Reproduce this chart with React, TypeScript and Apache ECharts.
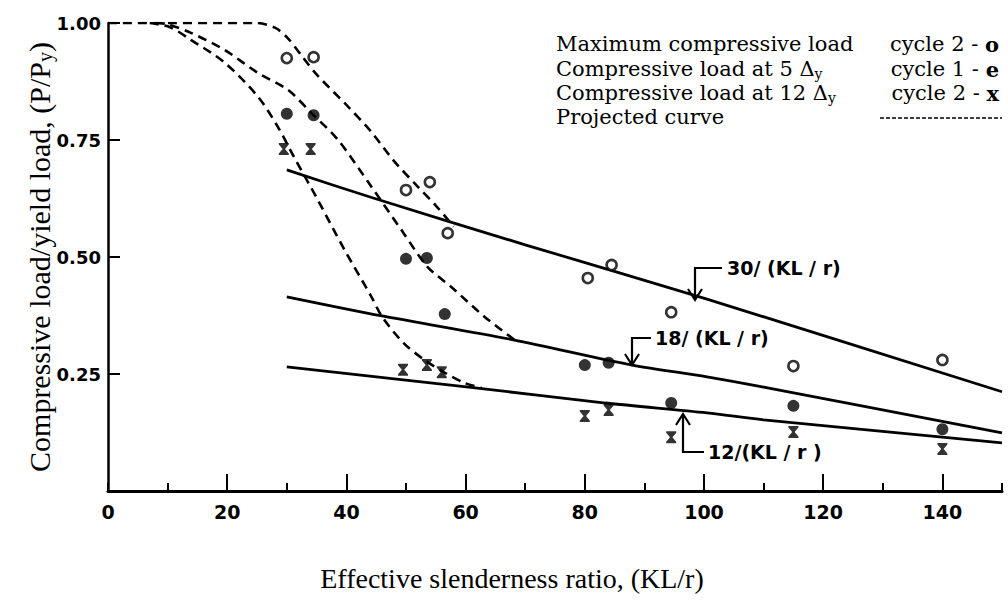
import React, { useEffect, useRef } from 'react';
import * as echarts from 'echarts';

// ---- tick labels ----
const xTickLabels = [0, 20, 40, 60, 80, 100, 120, 140];
const xMajorTicks = [20, 40, 60, 80, 100, 120, 140];
const yTickLabels = [0.25, 0.5, 0.75, 1.0];

// ---- measured points ----
// Maximum compressive load, cycle 2 (open circles)
const maxLoadX = [30, 34.5, 50, 54, 57, 80.5, 84.5, 94.5, 115, 140];
const maxLoadY = [0.925, 0.927, 0.643, 0.66, 0.551, 0.455, 0.483, 0.382, 0.267, 0.28];
// Compressive load at 5 Δy, cycle 1 (filled circles)
const load5X = [30, 34.5, 50, 53.5, 56.5, 80, 84, 94.5, 115, 140];
const load5Y = [0.806, 0.803, 0.496, 0.498, 0.378, 0.269, 0.274, 0.188, 0.182, 0.132];
// Compressive load at 12 Δy, cycle 2 (x marks)
const load12X = [29.5, 34, 49.5, 53.5, 56, 80, 84, 94.5, 115, 140];
const load12Y = [0.731, 0.731, 0.259, 0.269, 0.254, 0.16, 0.173, 0.115, 0.126, 0.09];

// ---- design lines (solid) ----
const line30 = [[30, 0.686], [44.5, 0.626], [70, 0.526], [100.5, 0.41], [150, 0.212]];
const line18 = [[30, 0.415], [46, 0.374], [68, 0.323], [88, 0.269], [100.5, 0.244], [110, 0.222], [150, 0.124]];
const line12 = [[30, 0.265], [60.5, 0.222], [83.5, 0.188], [100.5, 0.167], [110, 0.152], [150, 0.103]];

// ---- projected curves (dashed) ----
const projMax = [[0, 1], [25, 1], [28, 0.99], [30, 0.97], [32.5, 0.93], [35, 0.89], [40, 0.825], [44, 0.77], [48, 0.705], [52, 0.65], [55, 0.61], [58, 0.565]];
const proj5 = [[8, 1], [9.8, 0.998], [13.9, 0.979], [19.6, 0.942], [25.2, 0.893], [30.2, 0.857], [34.1, 0.808], [38.6, 0.75], [44.2, 0.65], [49.6, 0.551], [53.6, 0.479], [57.6, 0.436], [63.2, 0.372], [68.2, 0.323]];
const proj12 = [[7, 1], [10.4, 0.991], [13.9, 0.964], [19.6, 0.915], [25.2, 0.842], [28.5, 0.778], [31.2, 0.714], [35.2, 0.622], [39.7, 0.515], [44.2, 0.415], [46, 0.372], [49.6, 0.316], [53.1, 0.28], [56.6, 0.252], [59.8, 0.231], [62.7, 0.22]];

const zip = (xs: number[], ys: number[]) => xs.map((x, i) => [x, ys[i]]);

const SERIF = "'Liberation Serif', 'Times New Roman', serif";
const LEG_SERIF = "'DejaVu Serif', 'Liberation Serif', serif";
const SANS_B = "'DejaVu Sans', sans-serif";

const hourglass = 'path://M0,0 L10,0 L10,1.5 L6.2,6 L10,10.5 L10,12 L0,12 L0,10.5 L3.8,6 L0,1.5 Z';

const LEG_FS = 21;

function legendRow(y: number, left: string, right: string) {
  const items: any[] = [
    {
      type: 'text', x: 556, y,
      style: {
        text: left,
        rich: {
          a: { fontFamily: LEG_SERIF, fontSize: LEG_FS, fill: '#000' },
          s: { fontFamily: LEG_SERIF, fontSize: 14, fill: '#000', verticalAlign: 'bottom', padding: [9, 0, 0, 0] },
        },
        font: `${LEG_FS}px ${LEG_SERIF}`, fill: '#000',
        align: 'left', verticalAlign: 'middle', textAlign: 'left', textVerticalAlign: 'middle',
      },
    },
  ];
  if (right) {
    items.push({
      type: 'text', x: 999, y,
      style: {
        text: right,
        rich: {
          a: { fontFamily: LEG_SERIF, fontSize: LEG_FS, fill: '#000' },
          b: { fontFamily: LEG_SERIF, fontSize: LEG_FS, fontWeight: 'bold', fill: '#000' },
        },
        font: `${LEG_FS}px ${LEG_SERIF}`, fill: '#000',
        align: 'right', verticalAlign: 'middle', textAlign: 'right', textVerticalAlign: 'middle',
      },
    });
  }
  return items;
}

function annText(x: number, y: number, text: string) {
  return {
    type: 'text', x, y,
    style: {
      text, font: `bold 19px ${SANS_B}`, fill: '#000',
      align: 'left', verticalAlign: 'middle', textAlign: 'left', textVerticalAlign: 'middle',
    },
  };
}

const stroke = { stroke: '#000', lineWidth: 2.2, fill: 'none' };

export default function App() {
  const ref = useRef<HTMLDivElement>(null);
  useEffect(() => {
    document.body.style.margin = '0';
    const chart = echarts.init(ref.current!, null, { renderer: 'svg' });
    const lineSeries = (data: number[][], dashed: boolean) => ({
      type: 'line', data, showSymbol: false, symbol: 'none', smooth: 0.3,
      lineStyle: { color: '#000', width: dashed ? 2.6 : 2.8, type: dashed ? [9, 6] : 'solid' },
      z: 2, silent: true,
    });
    chart.setOption({
      animation: false,
      backgroundColor: '#fff',
      grid: { left: 108, right: 6, top: 23, bottom: 112 },
      xAxis: [
        {
          type: 'value', min: 0, max: 150, interval: 10, position: 'bottom',
          axisLine: { show: true, lineStyle: { color: '#000', width: 3 } },
          axisTick: { show: true, inside: true, length: 8, lineStyle: { color: '#000', width: 2 } },
          axisLabel: { show: false },
          splitLine: { show: false },
        },
        {
          type: 'value', min: 0, max: 150, interval: 10, position: 'bottom',
          axisLine: { show: false },
          axisTick: { show: true, inside: true, length: 17, customValues: xMajorTicks, lineStyle: { color: '#000', width: 2 } },
          axisLabel: {
            show: true, customValues: xTickLabels, margin: 11,
            fontFamily: SANS_B, fontWeight: 'bold', fontSize: 19, color: '#000',
          },
          splitLine: { show: false },
        },
      ],
      yAxis: {
        type: 'value', min: 0, max: 1, interval: 0.25,
        name: '{a|Compressive load/yield load, (P/P}{s|y}{a|)}',
        nameLocation: 'middle', nameGap: 53, nameRotate: 90, nameMoveOverlap: false,
        nameTextStyle: {
          rich: {
            a: { fontFamily: SERIF, fontSize: 30, color: '#000' },
            s: { fontFamily: SERIF, fontSize: 20, color: '#000', verticalAlign: 'bottom', padding: [11, 0, 0, 0] },
          },
        },
        axisLine: { show: true, lineStyle: { color: '#000', width: 2.5 } },
        axisTick: { show: true, inside: true, length: 12, lineStyle: { color: '#000', width: 2 } },
        axisLabel: {
          customValues: yTickLabels, margin: 7,
          formatter: (v: number) => v.toFixed(2),
          fontFamily: SANS_B, fontWeight: 'bold', fontSize: 18, color: '#000',
        },
        splitLine: { show: false },
      },
      series: [
        lineSeries(line30, false),
        lineSeries(line18, false),
        lineSeries(line12, false),
        lineSeries(projMax, true),
        lineSeries(proj5, true),
        lineSeries(proj12, true),
        {
          type: 'scatter', data: zip(maxLoadX, maxLoadY), symbol: 'circle', symbolSize: 10,
          itemStyle: { color: '#fff', borderColor: '#000', borderWidth: 2.6 }, z: 5,
        },
        {
          type: 'scatter', data: zip(load5X, load5Y), symbol: 'circle', symbolSize: 12,
          itemStyle: { color: '#000' }, z: 5,
        },
        {
          type: 'scatter', data: zip(load12X, load12Y), symbol: hourglass, symbolSize: [10, 12],
          itemStyle: { color: '#000' }, z: 5,
        },
      ],
      graphic: [
        ...legendRow(44, '{a|Maximum compressive load}', '{a|cycle 2 - }{b|o}'),
        ...legendRow(69, '{a|Compressive load at 5 Δ}{s|y}', '{a|cycle 1 - }{b|e}'),
        ...legendRow(93, '{a|Compressive load at 12 Δ}{s|y}', '{a|cycle 2 - }{b|x}'),
        ...legendRow(117, '{a|Projected curve}', ''),
        { type: 'line', shape: { x1: 880, y1: 118, x2: 1002, y2: 118 }, style: { stroke: '#000', lineWidth: 1.5, lineDash: [4, 2] } },
        {
          type: 'text', x: 512, y: 578,
          style: {
            text: 'Effective slenderness ratio, (KL/r)', font: `28px ${SERIF}`, fill: '#000',
            align: 'center', verticalAlign: 'middle', textAlign: 'center', textVerticalAlign: 'middle',
          },
        },
        // 30/(KL/r)
        { type: 'polyline', shape: { points: [[722, 268], [695, 268], [695, 299]] }, style: stroke },
        { type: 'polyline', shape: { points: [[688, 289], [695, 300], [702, 289]] }, style: stroke },
        annText(727, 268, '30/ (KL / r)'),
        // 18/(KL/r)
        { type: 'polyline', shape: { points: [[651, 338], [632, 338], [632, 364]] }, style: stroke },
        { type: 'polyline', shape: { points: [[625, 354], [632, 365], [639, 354]] }, style: stroke },
        annText(655, 338, '18/ (KL / r)'),
        // 12/(KL/r)
        { type: 'polyline', shape: { points: [[683, 415], [683, 452], [704, 452]] }, style: stroke },
        { type: 'polyline', shape: { points: [[676, 425], [683, 414], [690, 425]] }, style: stroke },
        annText(708, 452, '12/(KL / r )'),
      ],
    });
    return () => chart.dispose();
  }, []);
  return <div ref={ref} style={{ width: 1008, height: 603 }} />;
}
